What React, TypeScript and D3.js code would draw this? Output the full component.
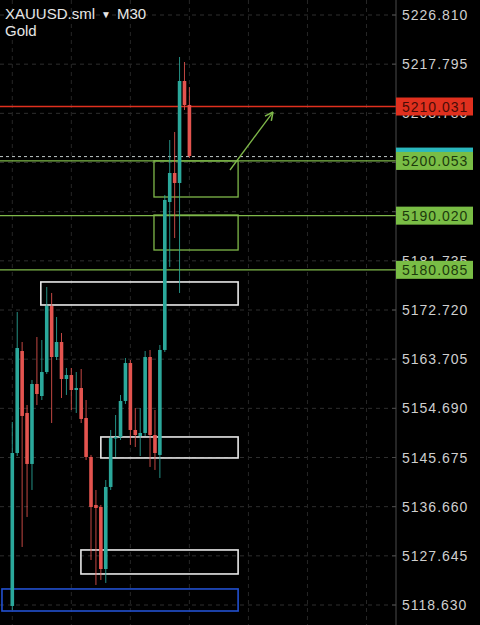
import React from "react";
import * as d3 from "d3";

const W = 480;
const H = 625;

// Tick labels of the price axis
const tickLabels = [
  "5226.810", "5217.795", "5208.780", "5199.765", "5190.750", "5181.735",
  "5172.720", "5163.705", "5154.690", "5145.675", "5136.660", "5127.645", "5118.630",
];

// Candles (M30), in order
const opens = [
  5118.45, 5146.5, 5165.2, 5153.84, 5144.49, 5159.15, 5156.95, 5161.35, 5173.45, 5164.1,
  5166.85, 5160.07, 5160.8, 5158.05, 5158.42, 5152.92, 5145.77, 5136.97, 5136.6, 5125.23,
  5140.27, 5149.25, 5149.44, 5156.04, 5163.0, 5150.72, 5149.62, 5150.17, 5164.1, 5149.8,
  5146.14, 5165.39, 5192.52, 5197.84, 5196.01, 5214.71, 5210.31,
];
const highs = [
  5152.19, 5172.35, 5166.85, 5155.3, 5159.89, 5167.77, 5167.22, 5176.94, 5175.84, 5171.44,
  5168.5, 5162.09, 5162.09, 5161.35, 5161.9, 5156.22, 5146.14, 5139.72, 5136.97, 5141.55,
  5150.72, 5153.47, 5157.14, 5163.92, 5163.55, 5154.75, 5154.75, 5165.2, 5165.39, 5154.39,
  5166.3, 5193.81, 5203.89, 5205.36, 5219.11, 5218.19, 5213.61,
];
const lows = [
  5117.72, 5145.95, 5129.27, 5134.77, 5139.72, 5155.3, 5156.22, 5160.99, 5152.0, 5163.55,
  5156.59, 5157.14, 5154.39, 5153.84, 5152.0, 5145.22, 5126.88, 5122.3, 5123.22, 5122.67,
  5139.72, 5145.77, 5148.89, 5155.49, 5147.97, 5147.6, 5145.95, 5149.62, 5143.94, 5143.39,
  5141.92, 5165.02, 5180.61, 5185.92, 5175.84, 5209.39, 5200.59,
];
const closes = [
  5146.5, 5165.75, 5153.29, 5144.49, 5159.15, 5157.32, 5161.35, 5173.45, 5164.1, 5166.85,
  5160.07, 5160.8, 5158.05, 5158.42, 5152.74, 5145.77, 5136.6, 5136.42, 5125.23, 5140.27,
  5149.25, 5149.44, 5156.04, 5163.0, 5150.72, 5149.8, 5150.17, 5164.1, 5149.8, 5146.5,
  5165.39, 5192.89, 5197.84, 5196.01, 5214.71, 5210.31, 5200.96,
];

// Zones: [startIndex, endIndex, topPrice, bottomPrice]
const greenZones = [
  [28.8, 45.9, 5200.05, 5193.44],
  [28.8, 45.9, 5190.14, 5183.72],
];
const whiteZones = [
  [5.8, 45.9, 5177.86, 5173.64],
  [18.0, 45.9, 5149.44, 5145.59],
  [13.95, 45.9, 5128.72, 5124.32],
];
const blueZones = [[-2.1, 45.9, 5121.57, 5117.53]];

// Horizontal levels
const redLevel = 5210.031;
const greenLevels = [5200.053, 5190.02, 5180.085];
const bidLevel = 5200.85;

// Arrow [startIndex, startPrice, endIndex, endPrice]
const arrow = [44.25, 5198.39, 52.99, 5209.02];

// Vertical grid at candle indices
const vGrid = [0, 12, 24, 36, 48, 60, 72];

const UP = "#2ba89b";
const DOWN = "#e4544f";
const GREEN_LINE = "#7fb84a";
const GREEN_LABEL = "#79bd45";
const RED = "#e0301e";
const AXIS_X = 396;

export default function App() {
  const y = d3.scaleLinear().domain([5118.63, 5226.81]).range([605, 15]);
  const x = d3.scaleLinear().domain([0, 36]).range([12.3, 189.4]);
  const cw = 3.6;
  const font = "'Liberation Sans', Arial, sans-serif";

  const tickVals = tickLabels.map((t) => +t);

  const label = (price: number, text: string, bg: string, fg: string) => (
    <g>
      <rect x={AXIS_X} y={y(price) - 9} width={77} height={18} fill={bg} />
      <text
        x={AXIS_X + 6}
        y={y(price) + 5}
        fontSize={14}
        letterSpacing={1}
        fill={fg}
        fontFamily={font}
      >
        {text}
      </text>
    </g>
  );

  const ax1 = x(arrow[0]), ay1 = y(arrow[1]), ax2 = x(arrow[2]), ay2 = y(arrow[3]);
  const ang = Math.atan2(ay2 - ay1, ax2 - ax1);
  const hl = 9;
  const head = [ang + Math.PI - 0.45, ang + Math.PI + 0.45].map((a) => [
    ax2 + hl * Math.cos(a),
    ay2 + hl * Math.sin(a),
  ]);

  return (
    <svg
      width={W}
      height={H}
      style={{ position: "fixed", left: 0, top: 0, background: "#000" }}
    >
      <rect x={0} y={0} width={W} height={H} fill="#000" />
      {/* grid */}
      {tickVals.map((v, i) => (
        <line
          key={"g" + i}
          x1={0}
          x2={AXIS_X}
          y1={y(v)}
          y2={y(v)}
          stroke="#2e2e2e"
          strokeDasharray="4,4"
        />
      ))}
      {vGrid.map((v, i) => (
        <line
          key={"v" + i}
          x1={x(v)}
          x2={x(v)}
          y1={0}
          y2={H}
          stroke="#262626"
          strokeDasharray="4,4"
        />
      ))}
      {/* title */}
      <text x={5} y={19} fontSize={15} fill="#e6e6e6" fontFamily={font}>
        XAUUSD.sml
        <tspan fontSize={10} dx={6} dy={-1}>▼</tspan>
        <tspan dx={6} dy={1}>M30</tspan>
      </text>
      <text x={5} y={36} fontSize={15} fill="#e6e6e6" fontFamily={font}>
        Gold
      </text>

      {/* zones */}
      {greenZones.map((z, i) => (
        <rect
          key={"gz" + i}
          x={x(z[0])}
          y={y(z[2])}
          width={x(z[1]) - x(z[0])}
          height={y(z[3]) - y(z[2])}
          fill="none"
          stroke={GREEN_LINE}
          strokeWidth={1.3}
        />
      ))}
      {whiteZones.map((z, i) => (
        <rect
          key={"wz" + i}
          x={x(z[0])}
          y={y(z[2])}
          width={x(z[1]) - x(z[0])}
          height={y(z[3]) - y(z[2])}
          fill="none"
          stroke="#e8e8e8"
          strokeWidth={1.6}
        />
      ))}
      {blueZones.map((z, i) => (
        <rect
          key={"bz" + i}
          x={x(z[0])}
          y={y(z[2])}
          width={x(z[1]) - x(z[0])}
          height={y(z[3]) - y(z[2])}
          fill="none"
          stroke="#2250d0"
          strokeWidth={1.6}
        />
      ))}

      {/* levels */}
      <line x1={0} x2={AXIS_X} y1={y(redLevel)} y2={y(redLevel)} stroke={RED} strokeWidth={1.3} />
      <line
        x1={0}
        x2={AXIS_X}
        y1={y(bidLevel)}
        y2={y(bidLevel)}
        stroke="#bfc8c8"
        strokeDasharray="3,3"
      />
      {greenLevels.map((v, i) => (
        <line key={"gl" + i} x1={0} x2={AXIS_X} y1={y(v)} y2={y(v)} stroke={GREEN_LINE} strokeWidth={1.3} />
      ))}

      {/* candles */}
      {opens.map((o, i) => {
        const c = closes[i];
        const up = c >= o;
        const col = up ? UP : DOWN;
        const top = y(Math.max(o, c));
        const bot = y(Math.min(o, c));
        return (
          <g key={"c" + i}>
            <line x1={x(i)} x2={x(i)} y1={y(highs[i])} y2={y(lows[i])} stroke={col} strokeWidth={1} opacity={0.85} />
            <rect x={x(i) - cw / 2} y={top} width={cw} height={Math.max(1.5, bot - top)} fill={col} />
          </g>
        );
      })}

      {/* arrow */}
      <line x1={ax1} y1={ay1} x2={ax2} y2={ay2} stroke={GREEN_LINE} strokeWidth={1.3} />
      {head.map((p, i) => (
        <line key={"ah" + i} x1={ax2} y1={ay2} x2={p[0]} y2={p[1]} stroke={GREEN_LINE} strokeWidth={1.5} />
      ))}

      {/* axis */}
      <line x1={AXIS_X} x2={AXIS_X} y1={0} y2={H} stroke="#4a4a4a" strokeWidth={1} />
      {tickVals.map((v, i) => (
        <g key={"t" + i}>
          <line x1={AXIS_X - 4} x2={AXIS_X} y1={y(v)} y2={y(v)} stroke="#4a4a4a" />
          <text
            x={AXIS_X + 6}
            y={y(v) + 5}
            fontSize={14}
            letterSpacing={1}
            fill="#cfcfcf"
            fontFamily={font}
          >
            {tickLabels[i]}
          </text>
        </g>
      ))}

      {/* price labels */}
      {label(redLevel, "5210.031", RED, "#4a0c06")}
      {label(bidLevel, "5200.853", "#2ab7bd", "#0c3a3c")}
      {greenLevels.map((v, i) => (
        <g key={"lb" + i}>{label(v, v.toFixed(3), GREEN_LABEL, "#1c3a0c")}</g>
      ))}
    </svg>
  );
}
